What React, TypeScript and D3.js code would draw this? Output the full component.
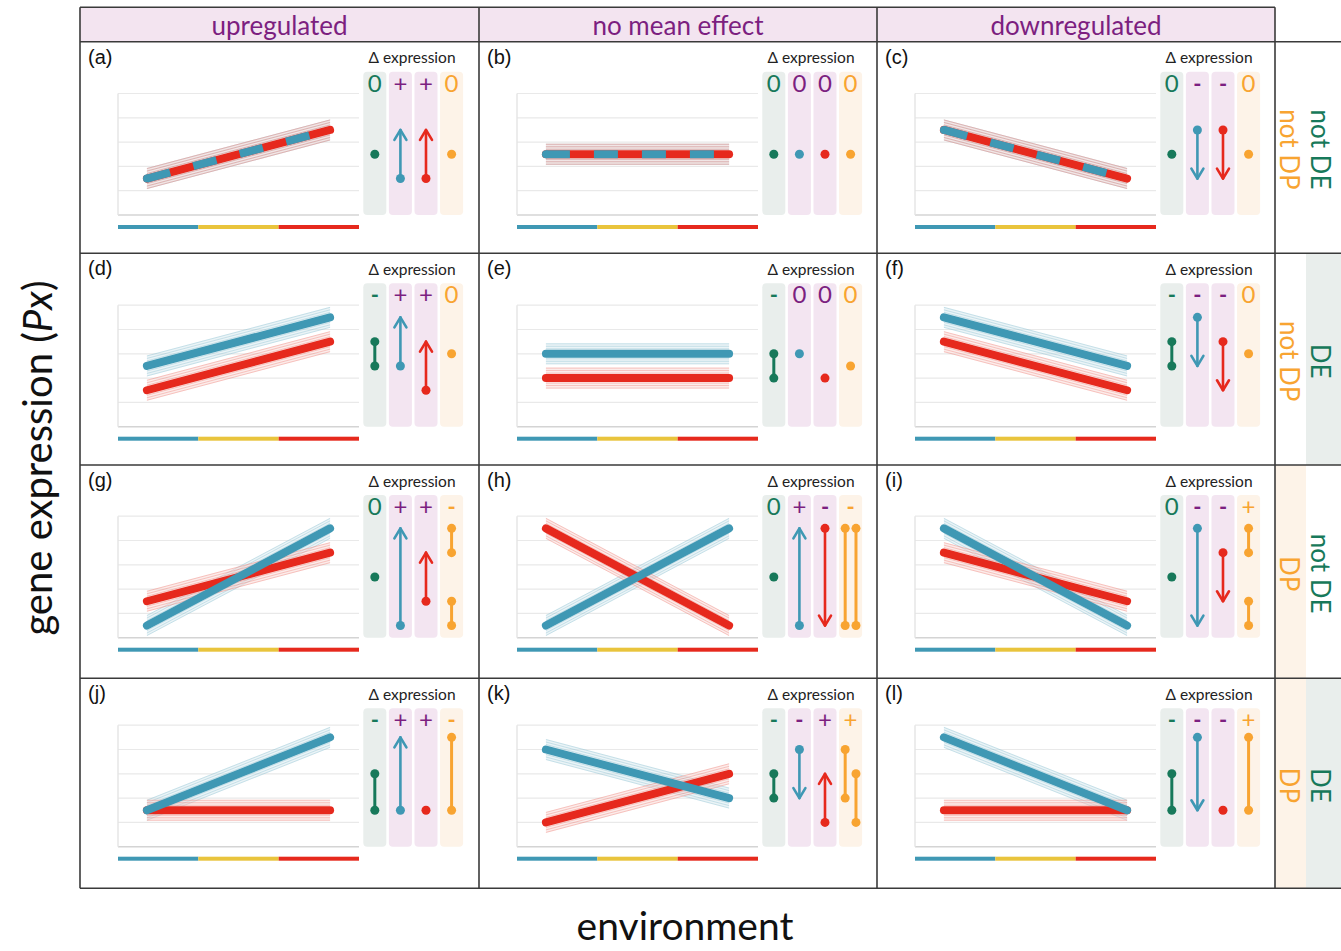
import * as d3 from "d3";

// ---- data (expression units 0..5) ----
const panelIds = ["a", "b", "c", "d", "e", "f", "g", "h", "i", "j", "k", "l"];
const effectTitles = ["upregulated", "no mean effect", "downregulated"];
const deLabels = ["not DE", "DE", "not DE", "DE"];
const dpLabels = ["not DP", "not DP", "DP", "DP"];
const environments = ["env1", "env2", "env3"];
const gridTicks = [0, 1, 2, 3, 4, 5];

const blueStart = [1.5, 2.5, 3.5, 2.5, 3, 4.5, 0.5, 0.5, 4.5, 1.5, 4, 4.5];
const blueEnd = [3.5, 2.5, 1.5, 4.5, 3, 2.5, 4.5, 4.5, 0.5, 4.5, 2, 1.5];
const redStart = [1.5, 2.5, 3.5, 1.5, 2, 3.5, 1.5, 4.5, 3.5, 1.5, 1, 1.5];
const redEnd = [3.5, 2.5, 1.5, 3.5, 2, 1.5, 3.5, 0.5, 1.5, 1.5, 3, 1.5];

// green column: difference in mean between groups
const greenMarks = [[2.5], [2.5], [2.5], [2.5, 3.5], [2, 3], [2.5, 3.5], [2.5], [2.5], [2.5], [1.5, 3], [2, 3], [1.5, 3]];
// orange column: difference in plasticity
const orangeMarks = [
  [[2.5]], [[2.5]], [[2.5]],
  [[3]], [[2.5]], [[3]],
  [[3.5, 4.5], [0.5, 1.5]], [[0.5, 4.5], [0.5, 4.5]], [[3.5, 4.5], [0.5, 1.5]],
  [[1.5, 4.5]], [[2, 4], [1, 3]], [[1.5, 4.5]],
];
const orangeSideBySide = [false, false, false, false, false, false, false, true, false, false, true, false];

const greenSign = ["0", "0", "0", "-", "-", "-", "0", "0", "0", "-", "-", "-"];
const blueSign = ["+", "0", "-", "+", "0", "-", "+", "+", "-", "+", "-", "-"];
const redSign = ["+", "0", "-", "+", "0", "-", "+", "-", "-", "+", "+", "-"];
const orangeSign = ["0", "0", "0", "0", "0", "0", "-", "-", "+", "-", "+", "+"];

// ---- layout ----
const W = 1341;
const H = 951;
const colX = [80, 479, 877, 1275];
const rowY = [41.7, 253.3, 465, 678.3, 888.3];
const plotBottom = [215, 426.7, 637.7, 846.7];
const headerTop = 7.3;
const stripMid = 1306;

const BLUE = "#3f98b4";
const RED = "#e6291d";
const YELLOW = "#e9c43c";
const GREEN = "#17795a";
const ORANGE = "#f8a431";
const PURPLE = "#7c1f80";
const BG_GREEN = "#e9eeec";
const BG_PINK = "#f3e5f1";
const BG_ORANGE = "#fdf3e8";
const FRAME = "#3a3a3a";

function Band({ x1, x2, y1, y2, color, fill }: any) {
  const offs = d3.range(-10, 10.1, 2.5);
  return (
    <g>
      <polygon points={`${x1},${y1 - 10.5} ${x2},${y2 - 10.5} ${x2},${y2 + 10.5} ${x1},${y1 + 10.5}`} fill={fill} opacity={0.45} />
      {offs.map((o) => (
        <line key={o} x1={x1} y1={y1 + o} x2={x2} y2={y2 + o} stroke={color} strokeWidth={0.8} opacity={0.28} />
      ))}
    </g>
  );
}

function Arrow({ cx, y, from, to, color }: any) {
  if (from === to) return <circle cx={cx} cy={y(from)} r={4.5} fill={color} />;
  const y0 = y(from);
  const y1 = y(to);
  const dir = y1 < y0 ? 1 : -1; // arms go back toward the start
  return (
    <g stroke={color} strokeWidth={2.6} fill="none" strokeLinecap="round">
      <line x1={cx} y1={y0} x2={cx} y2={y1} />
      <polyline points={`${cx - 6},${y1 + dir * 10} ${cx},${y1} ${cx + 6},${y1 + dir * 10}`} strokeLinejoin="round" />
      <circle cx={cx} cy={y0} r={4.5} fill={color} stroke="none" />
    </g>
  );
}

function Dumbbell({ cx, y, vals, color }: any) {
  if (vals.length === 1) return <circle cx={cx} cy={y(vals[0])} r={4.5} fill={color} />;
  return (
    <g>
      <line x1={cx} y1={y(vals[0])} x2={cx} y2={y(vals[1])} stroke={color} strokeWidth={3} />
      {vals.map((v: number, k: number) => (
        <circle key={k} cx={cx} cy={y(v)} r={4.5} fill={color} />
      ))}
    </g>
  );
}

function Panel({ i }: { i: number }) {
  const r = Math.floor(i / 3);
  const c = i % 3;
  const x0 = colX[c];
  const top = rowY[r];
  const bottom = plotBottom[r];

  const x = d3.scaleLinear().domain([0, 1]).range([x0 + 38, x0 + 279]);
  const y = d3.scaleLinear().domain([0, 5]).range([bottom, bottom - 121.5]);
  const env = d3.scaleBand().domain(environments).range([x0 + 38, x0 + 279]);
  const cols = d3
    .scaleBand()
    .domain(["green", "blue", "red", "orange"])
    .range([x0 + 283.3, x0 + 383.1])
    .paddingInner(0.1);

  const xa = x(0.12);
  const xb = x(0.88);
  const same = blueStart[i] === redStart[i] && blueEnd[i] === redEnd[i];
  const envColors = [BLUE, YELLOW, RED];
  const colBg: Record<string, string> = { green: BG_GREEN, blue: BG_PINK, red: BG_PINK, orange: BG_ORANGE };
  const signs: Record<string, string> = { green: greenSign[i], blue: blueSign[i], red: redSign[i], orange: orangeSign[i] };
  const signColor: Record<string, string> = { green: GREEN, blue: PURPLE, red: PURPLE, orange: ORANGE };
  const mid = (k: string) => (cols(k) as number) + cols.bandwidth() / 2;

  return (
    <g>
      <text x={x0 + 8} y={top + 22} fontFamily="'Liberation Sans', Arial, sans-serif" fontSize={20} fill="#111">
        ({panelIds[i]})
      </text>

      {/* grid */}
      {gridTicks.map((t) => (
        <line key={t} x1={x(0)} x2={x(1)} y1={y(t)} y2={y(t)} stroke={t === 0 ? "#d4d4d4" : "#e9e9e9"} strokeWidth={t === 0 ? 1.6 : 1.2} />
      ))}
      <line x1={x(0)} x2={x(0)} y1={y(0)} y2={y(5)} stroke="#e4e4e4" strokeWidth={1.4} />

      {/* environment colour bar */}
      {environments.map((e, k) => (
        <rect key={e} x={env(e)} y={bottom + 10} width={env.bandwidth()} height={4} fill={envColors[k]} />
      ))}

      {/* uncertainty bands */}
      <Band x1={xa} x2={xb} y1={y(blueStart[i])} y2={y(blueEnd[i])} color={BLUE} fill="#d3e6ee" />
      <Band x1={xa} x2={xb} y1={y(redStart[i])} y2={y(redEnd[i])} color={RED} fill="#f9d4d1" />

      {/* reaction norms */}
      <line x1={xa} y1={y(redStart[i])} x2={xb} y2={y(redEnd[i])} stroke={RED} strokeWidth={8} strokeLinecap="round" />
      {same ? (
        <g>
          <circle cx={xa} cy={y(blueStart[i])} r={4} fill={BLUE} />
          <line x1={xa} y1={y(blueStart[i])} x2={xb} y2={y(blueEnd[i])} stroke={BLUE} strokeWidth={8} strokeDasharray="24 24" />
        </g>
      ) : (
        <line x1={xa} y1={y(blueStart[i])} x2={xb} y2={y(blueEnd[i])} stroke={BLUE} strokeWidth={8} strokeLinecap="round" />
      )}

      {/* delta expression columns */}
      <text x={x0 + 332} y={top + 21.5} textAnchor="middle" fontSize={15.5} fill="#222">
        Δ expression
      </text>
      {cols.domain().map((k) => (
        <g key={k}>
          <rect x={cols(k)} y={top + 30} width={cols.bandwidth()} height={bottom - top - 30} rx={4} fill={colBg[k]} />
          <text x={mid(k)} y={top + 50} textAnchor="middle" fontSize={signs[k] === "-" ? 22 : 24} fontWeight={signs[k] === "-" ? 700 : 400} fill={signColor[k]}>
            {signs[k]}
          </text>
        </g>
      ))}
      <Dumbbell cx={mid("green")} y={y} vals={greenMarks[i]} color={GREEN} />
      <Arrow cx={mid("blue")} y={y} from={blueStart[i]} to={blueEnd[i]} color={BLUE} />
      <Arrow cx={mid("red")} y={y} from={redStart[i]} to={redEnd[i]} color={RED} />
      {orangeMarks[i].map((vals, k) => (
        <Dumbbell
          key={k}
          cx={mid("orange") + (orangeSideBySide[i] ? (k === 0 ? -5.4 : 5.4) : 0)}
          y={y}
          vals={vals}
          color={ORANGE}
        />
      ))}
    </g>
  );
}

export default function App() {
  return (
    <svg width={W} height={H} style={{ position: "absolute", left: 0, top: 0 }} fontFamily="Lato, 'Open Sans', sans-serif">
      <rect width={W} height={H} fill="#fff" />

      {/* column headers */}
      {effectTitles.map((t, c) => (
        <g key={t}>
          <rect x={colX[c]} y={headerTop} width={colX[c + 1] - colX[c]} height={rowY[0] - headerTop} fill="#f3e4f0" />
          <text x={(colX[c] + colX[c + 1]) / 2} y={34.5} textAnchor="middle" fontSize={26} fill={PURPLE}>
            {t}
          </text>
        </g>
      ))}

      {/* row strip */}
      {deLabels.map((d, r) => {
        const cy = (rowY[r] + rowY[r + 1]) / 2;
        return (
          <g key={r}>
            {d === "DE" && <rect x={stripMid} y={rowY[r]} width={W - stripMid} height={rowY[r + 1] - rowY[r]} fill={BG_GREEN} />}
            {dpLabels[r] === "DP" && <rect x={colX[3]} y={rowY[r]} width={stripMid - colX[3]} height={rowY[r + 1] - rowY[r]} fill={BG_ORANGE} />}
            <text transform={`translate(1321,${cy + 2}) rotate(90)`} textAnchor="middle" dominantBaseline="central" fontSize={26} fill={GREEN}>
              {d}
            </text>
            <text transform={`translate(1290,${cy + 2}) rotate(90)`} textAnchor="middle" dominantBaseline="central" fontSize={26} fill={ORANGE}>
              {dpLabels[r]}
            </text>
          </g>
        );
      })}

      {panelIds.map((_, i) => (
        <Panel key={i} i={i} />
      ))}

      {/* frame */}
      <g stroke={FRAME} strokeWidth={1.6}>
        <line x1={colX[0]} x2={colX[3]} y1={headerTop} y2={headerTop} />
        {rowY.map((yy, k) => (
          <line key={k} x1={colX[0]} x2={W} y1={yy} y2={yy} />
        ))}
        {colX.map((xx, k) => (
          <line key={k} x1={xx} x2={xx} y1={headerTop} y2={rowY[4]} />
        ))}
      </g>

      {/* axis titles */}
      <text transform="translate(52,458) rotate(-90)" textAnchor="middle" fontSize={40} fill="#111">
        gene expression (<tspan fontStyle="italic">Px</tspan>)
      </text>
      <text x={685} y={940} textAnchor="middle" fontSize={39} fill="#111">
        environment
      </text>
    </svg>
  );
}
